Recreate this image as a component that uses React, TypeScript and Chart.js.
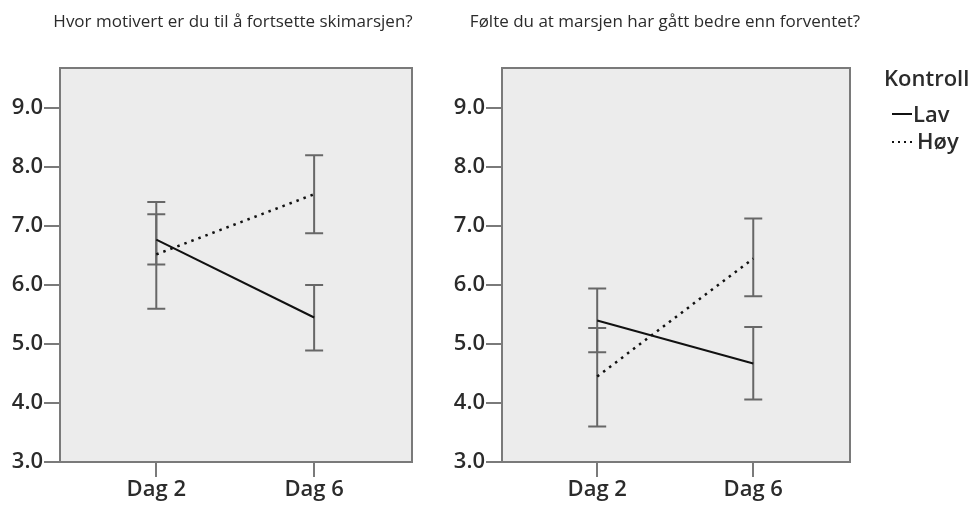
import React, { useEffect, useRef } from "react";
import { Chart, registerables } from "chart.js";

Chart.register(...registerables);

// ---------- data ----------
const categories = ["Dag 2", "Dag 6"];
const yTickValues = [3, 4, 5, 6, 7, 8, 9];
const seriesNames = ["Lav", "Høy"];
const legendTitle = "Kontroll";

const titleLeft = "Hvor motivert er du til å fortsette skimarsjen?";
const titleRight = "Følte du at marsjen har gått bedre enn forventet?";

// Panel 1: motivasjon
const motivLav = [6.77, 5.45];
const motivLavLow = [6.35, 4.89];
const motivLavHigh = [7.2, 6.0];
const motivHoy = [6.52, 7.54];
const motivHoyLow = [5.6, 6.88];
const motivHoyHigh = [7.41, 8.2];

// Panel 2: bedre enn forventet
const forvLav = [5.4, 4.67];
const forvLavLow = [4.86, 4.06];
const forvLavHigh = [5.94, 5.29];
const forvHoy = [4.45, 6.45];
const forvHoyLow = [3.6, 5.81];
const forvHoyHigh = [5.27, 7.13];

const FONT = "'Open Sans', 'DejaVu Sans', sans-serif";
const TEXT = "#2b2b2b";
const AXIS = "#7a7a7a";
const BAR = "#676767";
const PLOT_BG = "#ececec";

type Panel = {
  title: string;
  titleX: number;
  lav: number[];
  lavLow: number[];
  lavHigh: number[];
  hoy: number[];
  hoyLow: number[];
  hoyHigh: number[];
  padRight: number;
  legend: boolean;
};

function makeChart(canvas: HTMLCanvasElement, p: Panel) {
  const panelPlugin = {
    id: "panelDeco",
    beforeDraw(chart: any) {
      const { ctx, chartArea: a } = chart;
      ctx.save();
      ctx.fillStyle = PLOT_BG;
      ctx.fillRect(a.left, a.top, a.right - a.left, a.bottom - a.top);
      ctx.restore();
    },
    beforeDatasetsDraw(chart: any) {
      const { ctx } = chart;
      const xs = chart.scales.x;
      const ys = chart.scales.y;
      const bars = [
        [p.lavLow, p.lavHigh],
        [p.hoyLow, p.hoyHigh],
      ];
      ctx.save();
      ctx.strokeStyle = BAR;
      ctx.lineWidth = 2;
      bars.forEach(([lo, hi]) => {
        lo.forEach((l, i) => {
          const x = xs.getPixelForValue(i);
          const y1 = ys.getPixelForValue(l);
          const y2 = ys.getPixelForValue(hi[i]);
          ctx.beginPath();
          ctx.moveTo(x, y1);
          ctx.lineTo(x, y2);
          ctx.moveTo(x - 9, y1);
          ctx.lineTo(x + 9, y1);
          ctx.moveTo(x - 9, y2);
          ctx.lineTo(x + 9, y2);
          ctx.stroke();
        });
      });
      ctx.restore();
    },
    afterDraw(chart: any) {
      const { ctx, chartArea: a } = chart;
      ctx.save();
      ctx.strokeStyle = AXIS;
      ctx.lineWidth = 2;
      ctx.strokeRect(a.left, a.top, a.right - a.left, a.bottom - a.top);
      // title
      ctx.fillStyle = TEXT;
      ctx.font = `500 17px ${FONT}`;
      ctx.textAlign = "center";
      ctx.textBaseline = "middle";
      ctx.fillText(p.title, p.titleX, 22);
      if (p.legend) {
        const lx = a.right + 34;
        ctx.textAlign = "left";
        ctx.font = `600 22px ${FONT}`;
        ctx.fillText(legendTitle, lx, 80);
        // Lav
        ctx.strokeStyle = "#111";
        ctx.lineWidth = 2;
        ctx.setLineDash([]);
        ctx.beginPath();
        ctx.moveTo(lx + 8, 114);
        ctx.lineTo(lx + 28, 114);
        ctx.stroke();
        ctx.fillText(seriesNames[0], lx + 29, 116);
        // Høy
        ctx.setLineDash([2, 4]);
        ctx.beginPath();
        ctx.moveTo(lx + 8, 142);
        ctx.lineTo(lx + 30, 142);
        ctx.stroke();
        ctx.setLineDash([]);
        ctx.fillText(seriesNames[1], lx + 33, 143);
      }
      ctx.restore();
    },
  };

  const tickFont = { family: FONT, size: 22, weight: 600 as any };

  return new Chart(canvas, {
    type: "line",
    data: {
      datasets: [
        {
          label: seriesNames[0],
          data: p.lav.map((v, i) => ({ x: i, y: v })),
          borderColor: "#111",
          borderWidth: 2,
          pointRadius: 0,
          tension: 0,
        },
        {
          label: seriesNames[1],
          data: p.hoy.map((v, i) => ({ x: i, y: v })),
          borderColor: "#111",
          borderWidth: 2.5,
          borderDash: [2.5, 5],
          pointRadius: 0,
          tension: 0,
        },
      ],
    },
    options: {
      responsive: false,
      animation: false,
      events: [],
      layout: { padding: { top: 68, right: p.padRight, bottom: 0, left: 0 } },
      plugins: {
        legend: { display: false },
        title: { display: false },
        tooltip: { enabled: false },
      },
      scales: {
        x: {
          type: "linear",
          min: -0.61,
          max: 1.62,
          afterBuildTicks: (s: any) => {
            s.ticks = categories.map((_, i) => ({ value: i }));
          },
          afterFit: (s: any) => {
            s.height = 43;
          },
          ticks: {
            autoSkip: false,
            maxRotation: 0,
            padding: 0,
            color: TEXT,
            font: tickFont,
            callback: (v: any) => categories[v as number],
          },
          grid: {
            drawOnChartArea: false,
            drawTicks: true,
            tickLength: 15,
            color: AXIS,
            lineWidth: 2,
          },
          border: { display: false },
        },
        y: {
          min: 3,
          max: 9.68,
          afterBuildTicks: (s: any) => {
            s.ticks = yTickValues.map((v) => ({ value: v }));
          },
          afterFit: (s: any) => {
            s.width = 60;
          },
          ticks: {
            padding: 1,
            color: TEXT,
            font: tickFont,
            callback: (v: any) => Number(v).toFixed(1),
          },
          grid: {
            drawOnChartArea: false,
            drawTicks: true,
            tickLength: 16,
            color: AXIS,
            lineWidth: 2,
          },
          border: { display: false },
        },
      },
    },
    plugins: [panelPlugin],
  } as any);
}

export default function App() {
  const leftRef = useRef<HTMLCanvasElement>(null);
  const rightRef = useRef<HTMLCanvasElement>(null);

  useEffect(() => {
    const c1 = makeChart(leftRef.current!, {
      title: titleLeft,
      titleX: 233,
      lav: motivLav,
      lavLow: motivLavLow,
      lavHigh: motivLavHigh,
      hoy: motivHoy,
      hoyLow: motivHoyLow,
      hoyHigh: motivHoyHigh,
      padRight: 30,
      legend: false,
    });
    const c2 = makeChart(rightRef.current!, {
      title: titleRight,
      titleX: 223,
      lav: forvLav,
      lavLow: forvLavLow,
      lavHigh: forvLavHigh,
      hoy: forvHoy,
      hoyLow: forvHoyLow,
      hoyHigh: forvHoyHigh,
      padRight: 128,
      legend: true,
    });
    return () => {
      c1.destroy();
      c2.destroy();
    };
  }, []);

  return (
    <div
      style={{
        position: "absolute",
        left: 0,
        top: 0,
        width: 978,
        height: 505,
        background: "#fff",
        overflow: "hidden",
      }}
    >
      <canvas
        ref={leftRef}
        width={442}
        height={505}
        style={{ position: "absolute", left: 0, top: 0, display: "block" }}
      />
      <canvas
        ref={rightRef}
        width={536}
        height={505}
        style={{ position: "absolute", left: 442, top: 0, display: "block" }}
      />
    </div>
  );
}
